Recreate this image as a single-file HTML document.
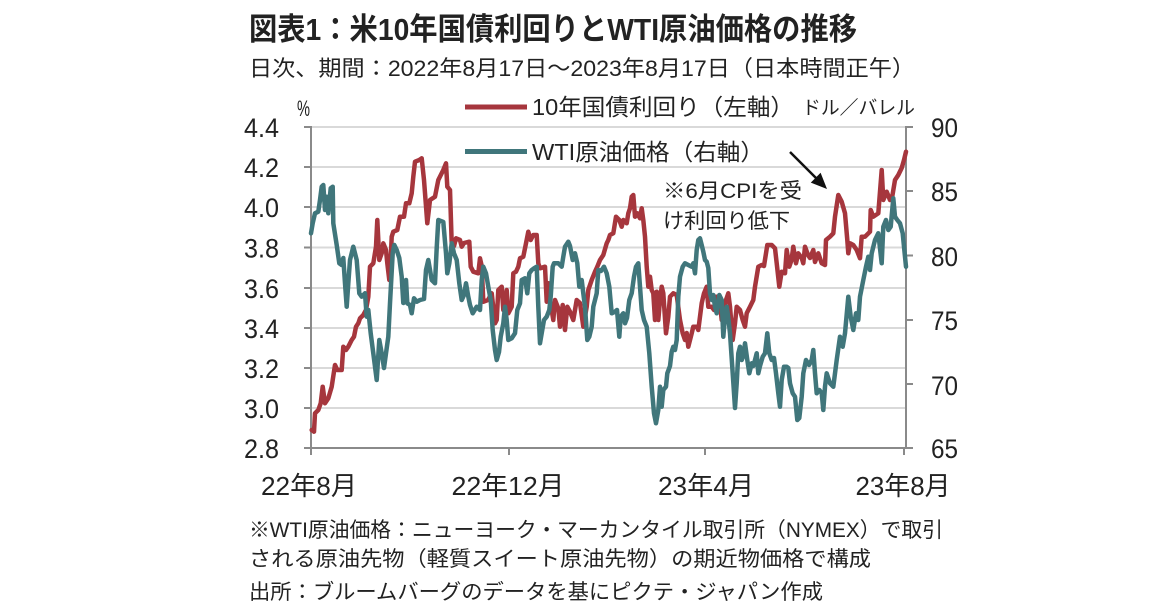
<!DOCTYPE html>
<html><head><meta charset="utf-8"><style>
html,body{margin:0;padding:0;background:#fff;}
svg{display:block;}
text{font-family:"Liberation Sans","Noto Sans CJK JP",sans-serif;fill:#222;}
</style></head><body>
<svg width="1152" height="616" viewBox="0 0 1152 616" xmlns="http://www.w3.org/2000/svg">
<rect width="1152" height="616" fill="#fff"/>
<text x="249" y="40" font-size="31" font-weight="bold" textLength="608" lengthAdjust="spacingAndGlyphs" fill="#262626">図表1：米10年国債利回りとWTI原油価格の推移</text>
<text x="249" y="76" font-size="22" textLength="666" lengthAdjust="spacingAndGlyphs" fill="#333">日次、期間：2022年8月17日～2023年8月17日（日本時間正午）</text>
<g stroke="#d9d9d9" stroke-width="2">
<line x1="311" y1="127" x2="906" y2="127"/><line x1="311" y1="167" x2="906" y2="167"/><line x1="311" y1="207" x2="906" y2="207"/><line x1="311" y1="247.5" x2="906" y2="247.5"/><line x1="311" y1="288" x2="906" y2="288"/><line x1="311" y1="328" x2="906" y2="328"/><line x1="311" y1="368" x2="906" y2="368"/><line x1="311" y1="408" x2="906" y2="408"/>
</g>
<g stroke="#8a8a8a" stroke-width="2" fill="none">
<line x1="311" y1="126" x2="311" y2="449"/><line x1="906" y1="126" x2="906" y2="449"/><line x1="310" y1="448" x2="907" y2="448"/>
<line x1="304" y1="127" x2="311" y2="127"/><line x1="304" y1="167" x2="311" y2="167"/><line x1="304" y1="207" x2="311" y2="207"/><line x1="304" y1="247.5" x2="311" y2="247.5"/><line x1="304" y1="288" x2="311" y2="288"/><line x1="304" y1="328" x2="311" y2="328"/><line x1="304" y1="368" x2="311" y2="368"/><line x1="304" y1="408" x2="311" y2="408"/><line x1="304" y1="448" x2="311" y2="448"/>
<line x1="906" y1="127" x2="913" y2="127"/><line x1="906" y1="191" x2="913" y2="191"/><line x1="906" y1="255.5" x2="913" y2="255.5"/><line x1="906" y1="320" x2="913" y2="320"/><line x1="906" y1="384" x2="913" y2="384"/><line x1="906" y1="448" x2="913" y2="448"/>
<line x1="311" y1="448" x2="311" y2="455"/><line x1="509" y1="448" x2="509" y2="455"/><line x1="705" y1="448" x2="705" y2="455"/><line x1="904" y1="448" x2="904" y2="455"/>
</g>
<g font-size="27" text-anchor="end">
<text x="279" y="137" textLength="35" lengthAdjust="spacingAndGlyphs">4.4</text>
<text x="279" y="177" textLength="35" lengthAdjust="spacingAndGlyphs">4.2</text>
<text x="279" y="217" textLength="35" lengthAdjust="spacingAndGlyphs">4.0</text>
<text x="279" y="257.5" textLength="35" lengthAdjust="spacingAndGlyphs">3.8</text>
<text x="279" y="298" textLength="35" lengthAdjust="spacingAndGlyphs">3.6</text>
<text x="279" y="338" textLength="35" lengthAdjust="spacingAndGlyphs">3.4</text>
<text x="279" y="378" textLength="35" lengthAdjust="spacingAndGlyphs">3.2</text>
<text x="279" y="418" textLength="35" lengthAdjust="spacingAndGlyphs">3.0</text>
<text x="279" y="458" textLength="35" lengthAdjust="spacingAndGlyphs">2.8</text>
</g>
<g font-size="27">
<text x="931" y="137" textLength="27" lengthAdjust="spacingAndGlyphs">90</text>
<text x="931" y="201" textLength="27" lengthAdjust="spacingAndGlyphs">85</text>
<text x="931" y="266" textLength="27" lengthAdjust="spacingAndGlyphs">80</text>
<text x="931" y="330" textLength="27" lengthAdjust="spacingAndGlyphs">75</text>
<text x="931" y="395" textLength="27" lengthAdjust="spacingAndGlyphs">70</text>
<text x="931" y="458" textLength="27" lengthAdjust="spacingAndGlyphs">65</text>
</g>
<g font-size="26" text-anchor="middle">
<text x="309" y="495" textLength="96" lengthAdjust="spacingAndGlyphs">22年8月</text>
<text x="508" y="495" textLength="113" lengthAdjust="spacingAndGlyphs">22年12月</text>
<text x="706" y="495" textLength="96" lengthAdjust="spacingAndGlyphs">23年4月</text>
<text x="903" y="495" textLength="95" lengthAdjust="spacingAndGlyphs">23年8月</text>
</g>
<text x="297" y="116" font-size="22" textLength="13" lengthAdjust="spacingAndGlyphs">%</text>
<line x1="465" y1="107" x2="527" y2="107" stroke="#a6363d" stroke-width="5"/>
<text x="532" y="115" font-size="23" textLength="262" lengthAdjust="spacingAndGlyphs">10年国債利回り（左軸）</text>
<text x="802" y="114" font-size="19" textLength="113" lengthAdjust="spacingAndGlyphs">ドル／バレル</text>
<line x1="465" y1="151.5" x2="527" y2="151.5" stroke="#40767b" stroke-width="5"/>
<text x="532" y="160" font-size="23" textLength="232" lengthAdjust="spacingAndGlyphs">WTI原油価格（右軸）</text>
<text x="663" y="198" font-size="21" textLength="139" lengthAdjust="spacingAndGlyphs">※6月CPIを受</text>
<text x="663" y="228" font-size="21" textLength="127" lengthAdjust="spacingAndGlyphs">け利回り低下</text>
<line x1="790" y1="152" x2="817" y2="179" stroke="#111" stroke-width="2.5"/>
<polygon points="827,189 810.8,182.6 820.6,172.7" fill="#111"/>
<polyline fill="none" stroke="#a6363d" stroke-width="4.5" stroke-linejoin="round" stroke-linecap="round" points="311.7,430 314,431.7 315,413.3 318.3,410 320.7,403.3 322.7,386.7 325,403.3 328.3,398.3 331.7,386.7 335,365 337.3,370 341.7,370 343.3,346.7 346,350 348.3,346.7 351.7,340 354,336.7 356,326.7 358.3,323.3 360,318.3 363.3,315 366,310 368.3,296.7 370,266.7 373.3,263.3 376,246.7 377.3,220 379.3,260 381.7,253.3 383.3,243.3 386,250 387.3,263.3 389.3,280 390.7,260 391.7,236.7 393.3,231.7 397.3,230 400,216.7 404,216.7 406,203.3 409.3,203.3 411.7,193.3 413.3,176.7 415,161.7 419.3,160 421.7,158.3 424,180 427.3,223.3 430,200 435,196.7 438.3,180 443.3,170 446,163.3 447.3,186.7 450,190 451.7,243.3 454,246 456,238.3 460,240 461.7,246.7 464,243 469.3,241.7 470.7,266.7 473.3,271.7 478.3,273.3 480,258.3 481.7,266 483.3,301.7 488,300 491.7,293.3 495,323.3 496.7,320 498.3,290 501.7,286.7 503.3,310 505,306 506.7,290 508.3,313.3 511.7,306.7 513.3,273.3 516,271.7 518.3,266.7 520,258.3 523.3,256.7 526,243.3 528.3,231.7 530.7,240 533.3,235 536.7,235 538.3,263.3 540,268.3 545,266.7 546.7,301.7 548.3,283.3 550,300 553.3,320 555,300 558.3,308.3 560,326.7 562.7,305 565,330 567.3,306.7 570,311.7 573.3,320 576.7,300 580,303 583.3,326.7 586.7,306.7 588.3,290 591.7,280 595,271.7 597.3,266.7 600,260 603.3,255 606.7,243.3 608.3,240 610,235 613.3,233.3 616,216.7 619.3,220 621.7,226.7 623.3,220 626.7,223.3 628.3,213.3 630,208.3 631.7,196.7 633.3,195 635,216.7 637.3,213.3 640,218.3 641.7,208.3 643.3,220 645,236.7 646.7,266.7 648.3,286.7 650,276.7 651.7,290 653.3,293.3 655,320 656.7,291.7 658.3,320 660,300 661.7,286.7 663.3,293.3 666,333.3 668.3,316.7 670,296.7 673.3,293.3 676.7,295 680,320 682.7,333.3 685,340 686.7,333 688.3,346.7 691.7,333.3 693.3,326.7 696.7,326.7 698.3,330 701.7,303.3 704,293.3 706.7,286.7 708.3,306.7 711.7,306.7 714,310 716,296.7 719.3,296.7 721.7,320 723.3,310 726,300 728.3,293.3 730,306.7 732.7,340 735,323.3 736.7,306.7 740,310 742.7,320 745,326.7 746.7,313.3 750,306.7 753.3,300 755,286.7 758.3,266.7 761.7,265 764,266 766,253.3 767.3,245 771.7,245 775,248.3 776.7,263.3 779.3,286.7 781.7,271.7 785,273.3 786.7,250 789.3,266.7 791.5,260 793.3,246.7 796,263.3 798.3,253.3 801.7,258 803.3,263.3 805,246.7 808,255 810,258 813.3,250 815,262 818.3,253.3 821.7,263.3 825,265 826,240 830,236.7 833.3,233.3 835,216.7 838.3,195 841.7,201.7 845,213.3 847.3,240 848.3,253.3 850,243.3 853.3,245 856.7,250 860,258.3 861.7,236.7 865,236.7 870,231.7 870.7,210 873.3,216.7 878.3,213.3 881.7,170 883.3,200 886.7,191.7 890,200 892,198 895,180 898.3,175 901.7,168 904,160 906,151.7"/>
<polyline fill="none" stroke="#40767b" stroke-width="4.5" stroke-linejoin="round" stroke-linecap="round" points="311,233.3 312.7,223.3 315,213.3 318.3,211.7 320,200 321.7,186.7 323.3,185 325,210 326.7,196.7 328.3,213.3 330.7,188.3 332.7,186.7 333.3,223.3 336.7,245 339.3,263.3 341.7,265 343.3,258 345,283.3 346.7,306.7 348.3,283.3 350,260 353.3,246.7 356.7,260 359.3,293.3 361.7,296.7 365,293.3 366.7,316.7 368.3,310 370.7,333.3 373.3,353.3 376.7,380 379.3,340 381.7,353.3 384,368 386,353.3 388.3,336.7 390,303.3 392.7,253.3 394.3,245 396.7,250 399.3,258 401.7,276.7 403.3,303 406,280 407.3,303.3 410,305 411.7,313.3 414,298.3 416.7,301.7 420,300 424,299 426,270 428.3,260 431.7,280 435,283.3 436.7,248 438.3,220 443.3,222 446,253.3 447.3,273.3 449.3,263.3 451.7,243.3 454,253.3 456.7,260 459.3,283.3 461.7,300 464,295 466,283.3 468.3,296.7 470,305 472.7,313.3 476.7,306.7 480,310 481.7,280 483.3,266.7 486,273.3 488.3,286.7 490.7,300 492.7,330 495,350 496.7,360 499,352 500.7,336.7 503.3,323.3 505,306.7 506.7,320 508.3,340 511.7,338.3 515,333.3 517.3,310 520,303.3 521.7,280 525,278.3 527.3,293.3 529.3,273.3 531.7,270 534,268.3 536.7,266.7 538.3,306.7 540,343.3 541.7,333.3 544,320 546.7,316.7 549.3,310 550.7,296.7 552.7,266.7 554,263.3 558.3,263.3 561.7,266.7 563.3,256.7 565,246.7 568.3,241.7 570,246 572.7,260 575,253.3 577.3,263.3 579.3,286.7 581.7,280 583.3,293.3 585,306.7 587.3,340 589.3,336.7 591.7,326.7 593.3,306.7 596.7,293.3 598.3,270 601,271 604,266.7 606.7,273.3 609.3,286.7 611.7,313.3 615,311.7 617,310 619.3,336.7 620.7,316.7 623.3,313.3 625,323.3 627,318 629.3,300 631.7,293.3 634,276.7 636,266.7 638.3,263.3 640,286.7 641.7,310 644,320 646.7,326.7 649.3,353.3 651.7,386.7 654,413.3 656,423.3 658.3,410 660,386.7 661.7,406.7 663.3,390 666,386.7 667.3,373.3 670,366 671.7,351.7 673.3,346.7 675,350 676.7,340 678.3,296.7 680,276.7 682.7,266.7 685,263.3 688.3,265 691.7,266.7 693.3,263.3 695,273.3 696.7,250 698.3,240 700,238.3 701.7,245 703.3,251.7 705,260 706.7,261.7 708.3,268 710,293.3 711.7,300 713.3,295 715,306.7 716.7,313.3 719.3,295 721.7,300 723.3,336.7 725,316.7 726.7,306.7 728.3,318 730,333.3 732.7,373.3 735,408 736.7,383.3 738.3,353.3 740,346.7 741.7,360 743.3,356 745,343.3 747.3,360 749.3,373.3 751.7,363.3 753.3,366 755,360 756.7,353.3 758.3,373.3 760,366 762.7,356.7 765,353.3 767.3,333.3 769.3,353.3 771.7,360 774,358 776,373.3 778.3,393.3 780,406.7 781.7,380 784,366.7 786.7,366.7 788.3,368 790,383.3 792.7,393.3 795,396.7 797.3,420 799.3,418 801.7,396.7 803.3,373.3 806,360 809,365 811.7,360 813.3,350 815,373.3 816.7,393.3 819.3,390 821.7,393 823.3,410 825,386.7 826.7,373.3 830,383.3 833.3,386.7 836.7,360 840,336.7 842.7,346.7 845,333.3 848.3,296.7 850.7,316.7 853.3,330 856,313.3 858.3,320 860,296.7 863.3,280 866,266.7 868.3,256.7 870,270 871.7,253.3 875,240 878.3,233.3 881.7,263.3 883.3,226.7 886,220 888.3,230 890.7,226.7 893.3,198.3 895,216.7 897.3,220 900,223.3 902.7,233.3 904,246.7 906,266.7"/>
<text x="249" y="537" font-size="21" textLength="694" lengthAdjust="spacingAndGlyphs">※WTI原油価格：ニューヨーク・マーカンタイル取引所（NYMEX）で取引</text>
<text x="249" y="566" font-size="21" textLength="622" lengthAdjust="spacingAndGlyphs">される原油先物（軽質スイート原油先物）の期近物価格で構成</text>
<text x="249" y="599" font-size="21" textLength="574" lengthAdjust="spacingAndGlyphs" fill="#333">出所：ブルームバーグのデータを基にピクテ・ジャパン作成</text>
</svg>
</body></html>
